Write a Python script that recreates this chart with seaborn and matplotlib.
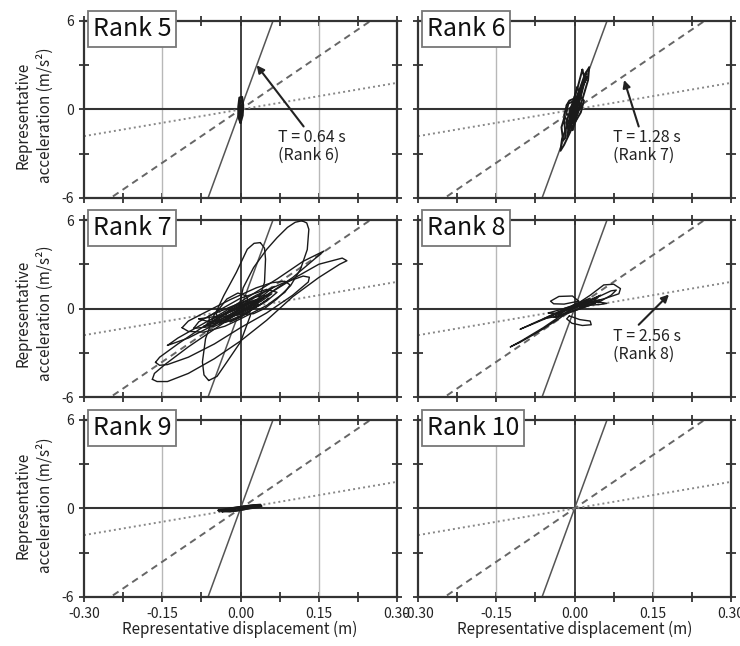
import numpy as np
import pandas as pd
import matplotlib
matplotlib.use("Agg")
import matplotlib.pyplot as plt
import seaborn as sns

# ---------------- data ----------------
ranks = ["Rank 5", "Rank 6", "Rank 7", "Rank 8", "Rank 9", "Rank 10"]
periods = [0.64, 1.28, 2.56]           # reference periods (s)
ref_styles = ["-", "--", ":"]
x_ticks = [-0.30, -0.15, 0.00, 0.15, 0.30]
x_ticklabels = ["-0.30", "-0.15", "0.00", "0.15", "0.30"]
y_ticks = [-6, 0, 6]
y_ticklabels = ["-6", "0", "6"]

rank5_loops = [
    [(0.0, -0.9), (0.004, -0.4), (0.005, 0.3), (0.003, 0.85), (-0.002, 0.8), (-0.004, 0.2), (-0.004, -0.5), (0.0, -0.9)],
    [(-0.002, -0.6), (0.003, -0.2), (0.004, 0.5), (0.0, 0.6), (-0.003, 0.1), (-0.002, -0.6)],
    [(-0.003, -0.3), (0.002, 0.0), (0.003, 0.3), (-0.001, 0.2), (-0.003, -0.3)],
]

rank6_loops = [
    [(0.028, 2.85), (0.026, 2.0), (0.016, 0.8), (0.006, -0.3), (-0.008, -1.5), (-0.02, -2.4), (-0.027, -2.8),
     (-0.024, -2.0), (-0.012, -0.9), (-0.002, 0.3), (0.01, 1.4), (0.02, 2.4), (0.028, 2.85)],
    [(0.015, 2.7), (0.02, 2.0), (0.012, 0.9), (0.0, -0.4), (-0.012, -1.3), (-0.016, -0.9), (-0.006, 0.2), (0.006, 1.5), (0.015, 2.7)],
    [(-0.015, 0.3), (-0.01, 0.6), (0.01, 0.9), (0.018, 0.6), (0.012, -0.2), (0.002, -0.8), (-0.012, -0.9), (-0.02, -0.4), (-0.015, 0.3)],
    [(-0.02, -0.6), (-0.017, -1.9), (-0.022, -2.1), (-0.025, -1.2), (-0.02, -0.6)],
    [(0.022, 2.5), (0.012, 1.2), (-0.004, -0.8), (-0.014, -1.8), (-0.01, -1.0), (0.004, 0.5), (0.018, 2.0), (0.022, 2.5)],
    [(0.005, 1.5), (-0.005, 0.2), (0.008, 0.5), (-0.008, -0.5), (0.005, -0.3), (-0.01, -1.2), (0.0, -0.6), (0.012, 1.0), (0.005, 1.5)],
    [(-0.012, 0.4), (0.006, 0.7), (0.014, 0.2), (-0.004, -0.5), (-0.016, -0.3), (-0.012, 0.4)],
    [(0.024, 2.2), (0.016, 1.6), (0.008, 0.4), (-0.006, -0.6), (-0.002, 0.1), (0.01, 1.2), (0.024, 2.2)],
    [(-0.008, 0.1), (0.0, 0.5), (0.01, 0.3), (0.004, -0.3), (-0.008, -0.5), (-0.008, 0.1)],
    [(-0.004, -1.4), (0.004, -0.6), (-0.002, -0.2), (-0.01, -0.9), (-0.004, -1.4)],
]

rank7_loops = [
    # tall upper loop
    [(0.118, 5.95), (0.127, 5.8), (0.131, 5.37), (0.128, 4.0), (0.115, 2.67), (0.096, 1.55), (0.07, 0.65), (0.046, 0.0),
     (0.025, -0.35), (0.008, -0.4), (-0.004, -0.1), (0.005, 1.4), (0.025, 2.77), (0.05, 4.0), (0.07, 4.8),
     (0.09, 5.5), (0.105, 5.85), (0.118, 5.95)],
    # middle tall loop
    [(0.038, 4.47), (0.046, 4.1), (0.048, 3.35), (0.046, 1.77), (0.033, 0.4), (0.015, -0.3), (-0.01, -0.7),
     (-0.03, -0.95), (-0.043, -0.75), (-0.047, -0.25), (-0.032, 0.88), (-0.008, 2.45), (0.013, 4.02),
     (0.026, 4.42), (0.038, 4.47)],
    # lower tall loop
    [(-0.061, -4.88), (-0.07, -4.5), (-0.073, -3.62), (-0.067, -2.04), (-0.051, -0.47), (-0.026, 0.65), (-0.005, 1.05),
     (0.012, 0.85), (0.019, -0.47), (0.0, -2.27), (-0.026, -3.62), (-0.045, -4.6), (-0.061, -4.88)],
    # long flat loops
    [(-0.169, -4.8), (-0.16, -4.95), (-0.14, -4.95), (-0.10, -4.4), (-0.05, -3.4), (0.0, -2.2), (0.05, -0.8),
     (0.10, 0.8), (0.15, 2.1), (0.19, 3.0), (0.204, 3.24), (0.195, 3.42), (0.15, 3.0), (0.10, 2.0), (0.05, 0.9),
     (0.0, -0.2), (-0.05, -1.4), (-0.10, -2.6), (-0.145, -3.8), (-0.165, -4.4), (-0.169, -4.8)],
    [(-0.163, -3.65), (-0.155, -3.85), (-0.14, -3.8), (-0.10, -3.3), (-0.05, -2.4), (0.0, -1.3), (0.05, -0.3),
     (0.10, 0.9), (0.13, 1.8), (0.132, 2.12), (0.12, 2.2), (0.08, 1.7), (0.03, 0.9), (-0.02, -0.1), (-0.07, -1.2),
     (-0.12, -2.4), (-0.155, -3.3), (-0.163, -3.65)],
    [(-0.14, -2.5), (-0.10, -2.0), (-0.05, -1.1), (0.0, -0.1), (0.05, 0.9), (0.10, 2.1), (0.16, 3.9), (0.12, 3.2),
     (0.07, 2.0), (0.02, 0.9), (-0.03, -0.2), (-0.08, -1.2), (-0.12, -2.0), (-0.14, -2.5)],
    [(-0.112, -1.3), (-0.1, -1.55), (-0.07, -1.6), (-0.03, -1.2), (0.0, -0.7), (0.05, 0.2), (0.085, 1.1),
     (0.095, 1.6), (0.085, 1.85), (0.06, 1.75), (0.03, 1.4), (-0.02, 0.6), (-0.07, -0.3), (-0.1, -0.85), (-0.112, -1.3)],
    # dense centre
    [(-0.09, -1.35), (-0.05, -1.2), (0.0, -0.5), (0.05, 0.5), (0.07, 1.1), (0.05, 1.3), (0.0, 0.7), (-0.05, -0.3), (-0.08, -0.9), (-0.09, -1.35)],
    [(-0.07, -1.2), (-0.03, -0.6), (0.02, 0.4), (0.06, 1.0), (0.04, 0.5), (-0.01, -0.4), (-0.05, -1.1), (-0.07, -1.2)],
    [(-0.06, -0.5), (-0.02, 0.1), (0.03, 0.8), (0.05, 0.9), (0.02, 0.1), (-0.03, -0.8), (-0.06, -0.9), (-0.06, -0.5)],
    [(-0.04, -1.0), (0.0, -0.2), (0.04, 0.6), (0.01, 0.3), (-0.03, -0.4), (-0.045, -0.8), (-0.04, -1.0)],
    [(-0.08, -0.7), (-0.04, -0.5), (0.0, 0.2), (0.03, 0.6), (0.0, 0.0), (-0.05, -1.0), (-0.08, -0.7)],
    [(-0.05, -0.8), (-0.02, -0.2), (0.02, 0.6), (0.065, 1.5), (0.04, 0.8), (0.0, 0.0), (-0.03, -0.9), (-0.05, -0.8)],
    [(-0.03, -0.6), (0.0, -0.4), (0.03, 0.2), (0.01, 0.5), (-0.02, 0.0), (-0.03, -0.6)],
    [(-0.065, -1.1), (-0.035, -0.9), (0.0, -0.3), (0.035, 0.3), (0.02, 0.5), (-0.02, -0.2), (-0.06, -0.8), (-0.065, -1.1)],
    [(-0.045, -0.6), (-0.01, -0.1), (0.025, 0.5), (0.045, 0.7), (0.02, 0.2), (-0.015, -0.5), (-0.045, -0.6)],
    [(-0.02, -0.9), (0.01, -0.3), (0.04, 0.3), (0.055, 0.7), (0.03, 0.1), (0.0, -0.6), (-0.02, -0.9)],
]

rank8_loops = [
    [(-0.123, -2.6), (-0.1, -2.15), (-0.06, -1.3), (-0.025, -0.45), (0.0, 0.1), (-0.03, -0.7), (-0.07, -1.6), (-0.105, -2.3), (-0.123, -2.6)],
    [(-0.104, -1.4), (-0.07, -0.85), (-0.03, -0.25), (0.0, 0.2), (-0.04, -0.45), (-0.08, -1.05), (-0.104, -1.4)],
    [(0.008, 0.5), (-0.004, 0.85), (-0.03, 0.82), (-0.046, 0.5), (-0.04, 0.32), (-0.02, 0.3), (0.008, 0.5)],
    [(-0.01, -0.5), (0.01, -0.75), (0.03, -0.85), (0.032, -1.1), (0.015, -1.15), (-0.005, -1.0), (-0.015, -0.7), (-0.01, -0.5)],
    [(0.0, 0.2), (0.03, 0.9), (0.056, 1.6), (0.075, 1.65), (0.088, 1.35), (0.085, 1.0), (0.06, 0.7), (0.03, 0.4), (0.0, 0.2)],
    [(0.01, 0.1), (0.04, 0.7), (0.07, 1.2), (0.08, 1.25), (0.07, 0.9), (0.05, 0.5), (0.03, 0.3), (0.01, 0.1)],
    [(0.02, 0.2), (0.05, 0.28), (0.062, 0.35), (0.05, 0.42), (0.03, 0.4), (0.02, 0.2)],
    [(-0.06, -0.7), (-0.03, -0.2), (0.0, 0.2), (0.03, 0.6), (0.05, 0.9), (0.03, 0.5), (0.0, 0.0), (-0.03, -0.5), (-0.06, -0.7)],
    [(-0.05, -0.3), (-0.02, 0.0), (0.02, 0.4), (0.05, 0.6), (0.02, 0.1), (-0.02, -0.4), (-0.05, -0.3)],
    [(-0.04, -0.6), (0.0, -0.1), (0.04, 0.4), (0.02, 0.5), (-0.02, 0.0), (-0.04, -0.6)],
    [(-0.03, -0.4), (0.0, 0.3), (0.03, 0.7), (0.01, 0.2), (-0.02, -0.2), (-0.03, -0.4)],
    [(-0.05, -0.55), (-0.015, -0.05), (0.025, 0.45), (0.04, 0.35), (0.0, -0.15), (-0.035, -0.6), (-0.05, -0.55)],
    [(-0.025, -0.15), (0.01, 0.25), (0.045, 0.75), (0.035, 0.45), (0.0, 0.05), (-0.025, -0.15)],
]

rank9_loops = [
    [(-0.042, -0.13), (-0.02, -0.2), (0.0, -0.1), (0.02, 0.05), (0.04, 0.15), (0.038, 0.25), (0.02, 0.2), (0.0, 0.1), (-0.02, 0.0), (-0.042, -0.13)],
    [(-0.035, -0.2), (-0.01, -0.15), (0.015, 0.0), (0.035, 0.1), (0.025, 0.2), (0.0, 0.1), (-0.025, -0.05), (-0.035, -0.2)],
    [(-0.03, -0.1), (0.0, 0.05), (0.03, 0.2), (0.01, 0.12), (-0.02, -0.05), (-0.03, -0.1)],
]

rank10_loops = []

panel_loops = [rank5_loops, rank6_loops, rank7_loops, rank8_loops, rank9_loops, rank10_loops]
panel_lw = [1.6, 1.4, 1.0, 1.0, 1.6, 1.0]

# annotations
ann_panels = [0, 1, 3]
ann_labels = ["T = 0.64 s", "T = 1.28 s", "T = 2.56 s"]
ann_ranks = ["(Rank 6)", "(Rank 7)", "(Rank 8)"]
ann_heads = [(0.031, 3.0), (0.095, 2.0), (0.181, 0.95)]
ann_tails = [(0.121, -1.15), (0.123, -1.15), (0.123, -1.1)]
ann_text = [(0.072, -1.9), (0.074, -1.9), (0.074, -1.9)]

# ---------------- figure ----------------
sns.set_style("white")
plt.rcParams["font.family"] = ["Noto Sans CJK JP", "DejaVu Sans"]
plt.rcParams["axes.unicode_minus"] = False

fig = plt.figure(figsize=(7.4, 6.46), dpi=100)
lefts = [0.1135, 0.5649]
bottoms = [0.6935, 0.3854, 0.0759]
W, H = 0.423, 0.274
frame_col = "#333333"
text_col = "#222222"

axes = []
for i, rk in enumerate(ranks):
    r, c = divmod(i, 2)
    ax = fig.add_axes([lefts[c], bottoms[r], W, H])
    axes.append(ax)
    ax.set_xlim(-0.3, 0.3)
    ax.set_ylim(-6, 6)
    for g in (-0.15, 0.15):
        ax.axvline(g, color="#b8b8b8", lw=1.0, zorder=1)
    ax.axvline(0, color=frame_col, lw=1.3, zorder=1.5)
    ax.axhline(0, color=frame_col, lw=1.5, zorder=1.5)

    xr = np.array([-0.3, 0.3])
    for T, ls in zip(periods, ref_styles):
        w2 = (2 * np.pi / T) ** 2
        if ls == "-":
            sns.lineplot(x=xr, y=w2 * xr, ax=ax, color="#555555", lw=1.1, zorder=2)
        elif ls == "--":
            sns.lineplot(x=xr, y=w2 * xr, ax=ax, color="#666666", lw=1.4, zorder=2, linestyle=(0, (3.5, 2.5)))
        else:
            sns.lineplot(x=xr, y=w2 * xr, ax=ax, color="#888888", lw=1.4, zorder=2, linestyle=(0, (1, 1.6)))

    loops = panel_loops[i]
    if loops:
        rows = []
        for k, lp in enumerate(loops):
            for (d, a) in lp:
                rows.append({"d": d, "a": a, "loop": k})
        df = pd.DataFrame(rows)
        sns.lineplot(data=df, x="d", y="a", units="loop", estimator=None, sort=False,
                     color="#1a1a1a", lw=panel_lw[i], ax=ax, zorder=3)

    ax.set_xlabel("")
    ax.set_ylabel("")
    ax.set_xticks(x_ticks)
    ax.set_xticks([-0.225, -0.075, 0.075, 0.225], minor=True)
    ax.set_yticks(y_ticks)
    ax.set_yticks([-3, 3], minor=True)
    if r == 2:
        ax.set_xticklabels(x_ticklabels)
    else:
        ax.set_xticklabels([])
    if c == 0:
        ax.set_yticklabels(y_ticklabels)
    else:
        ax.set_yticklabels([])
    ax.tick_params(which="both", direction="inout", length=7, width=1.3, color=frame_col,
                   top=True, right=True, bottom=True, left=True, labelsize=10, labelcolor=text_col, pad=4)
    for sp in ax.spines.values():
        sp.set_color(frame_col)
        sp.set_linewidth(1.6)
        sp.set_visible(True)

    ax.text(0.028, 0.955, rk, transform=ax.transAxes, fontsize=18, ha="left", va="center",
            color="#111111", zorder=10, clip_on=False,
            bbox=dict(boxstyle="square,pad=0.2", fc="white", ec="#777777", lw=1.3))

for p, lab, rkt, hd, tl, tp in zip(ann_panels, ann_labels, ann_ranks, ann_heads, ann_tails, ann_text):
    ax = axes[p]
    ax.annotate("", xy=hd, xytext=tl,
                arrowprops=dict(arrowstyle="-|>", color=text_col, lw=1.5, mutation_scale=11, shrinkA=0, shrinkB=0),
                zorder=6)
    ax.text(tp[0], tp[1], lab, fontsize=11.5, ha="left", va="center", color=text_col, zorder=6)
    ax.text(tp[0], tp[1] - 1.2, rkt, fontsize=11.5, ha="left", va="center", color=text_col, zorder=6)

ylab = "Representative\nacceleration (m/s²)"
for yc in (0.822, 0.515, 0.218):
    fig.text(0.046, yc, ylab, rotation=90, ha="center", va="center", fontsize=11,
             linespacing=1.4, color=text_col)
for xc in (0.324, 0.776):
    fig.text(xc, 0.025, "Representative displacement (m)", ha="center", va="center",
             fontsize=11, color=text_col)

fig.savefig("out.png", dpi=100)
